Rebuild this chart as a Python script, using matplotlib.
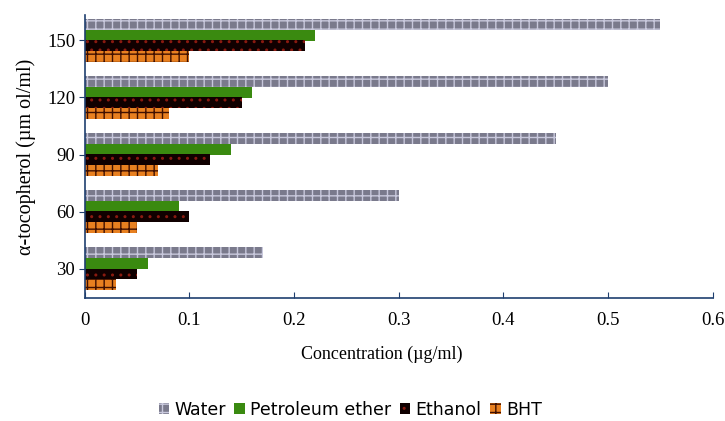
import matplotlib
matplotlib.use("Agg")
import matplotlib.pyplot as plt
import numpy as np

categories = ["30", "60", "90", "120", "150"]
water = [0.17, 0.30, 0.45, 0.50, 0.55]
petroleum_ether = [0.06, 0.09, 0.14, 0.16, 0.22]
ethanol = [0.05, 0.10, 0.12, 0.15, 0.21]
bht = [0.03, 0.05, 0.07, 0.08, 0.10]
xticks = [0, 0.1, 0.2, 0.3, 0.4, 0.5, 0.6]
xticklabels = ["0", "0.1", "0.2", "0.3", "0.4", "0.5", "0.6"]

plt.rcParams['hatch.linewidth'] = 1.0
fig = plt.figure(figsize=(7.25, 4.21), dpi=100)
ax = fig.add_axes([0.117, 0.292, 0.866, 0.672])

y = np.arange(len(categories))
h = 0.19
serif = "Liberation Serif"

b1 = ax.barh(y + 0.28, water, height=h, color="#7a7a8c", hatch="++", edgecolor="#c8c8dc", linewidth=0, label="Water")
b2 = ax.barh(y + 0.09, petroleum_ether, height=h, color="#3a8a10", edgecolor="#3a8a10", linewidth=0, label="Petroleum ether")
b3 = ax.barh(y - 0.09, ethanol, height=h, color="#100000", hatch="..", edgecolor="#8a1a10", linewidth=0, label="Ethanol")
b4 = ax.barh(y - 0.28, bht, height=h, color="#e88020", hatch="++", edgecolor="#401000", linewidth=0, label="BHT")

ax.set_xlim(0, 0.6)
ax.set_ylim(-0.51, 4.44)
ax.set_yticks(y)
ax.set_yticklabels(categories, fontfamily=serif, fontsize=13.5)
ax.set_xticks(xticks)
ax.set_xticklabels(xticklabels, fontfamily=serif, fontsize=13.5)
ax.tick_params(axis='y', direction='out', length=4, color='#1f3f6f', pad=3)
ax.tick_params(axis='x', direction='in', length=4, color='#1f3f6f', pad=10)
for s in ['top', 'right']:
    ax.spines[s].set_visible(False)
for s in ['left', 'bottom']:
    ax.spines[s].set_color('#1f3f6f')
    ax.spines[s].set_linewidth(1.2)

ax.set_xlabel("Concentration (µg/ml)", fontfamily=serif, fontsize=13)
ax.xaxis.set_label_coords(0.473, -0.17)
ax.set_ylabel("α-tocopherol (µm ol/ml)", fontfamily=serif, fontsize=14.5, labelpad=8)

fig.legend(handles=[b1, b2, b3, b4], loc='center', bbox_to_anchor=(0.483, 0.026), ncol=4,
           frameon=False, fontsize=12.5, handlelength=0.6, handleheight=0.6,
           handletextpad=0.3, columnspacing=0.5)

fig.savefig("out.png", dpi=100)
